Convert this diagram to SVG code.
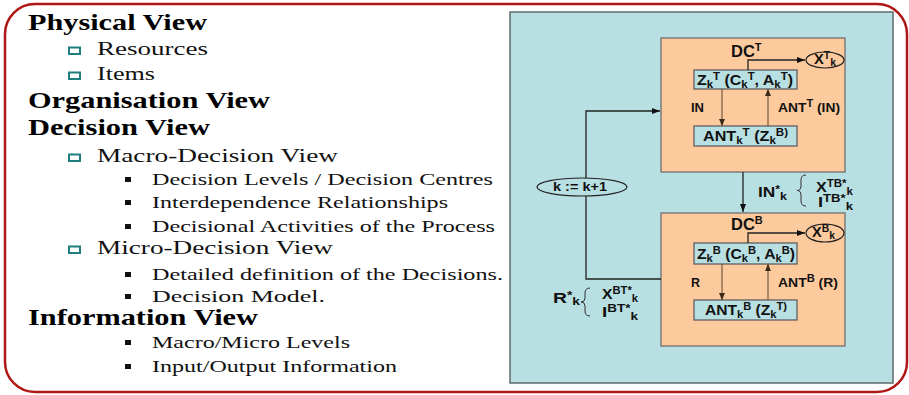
<svg xmlns="http://www.w3.org/2000/svg" width="909" height="395" viewBox="0 0 909 395">
<defs>
<marker id="ah" markerWidth="8" markerHeight="6" refX="8" refY="3" orient="auto" markerUnits="userSpaceOnUse"><path d="M0,0 L8,3 L0,6 z" fill="#111"/></marker>
<marker id="ah2" markerWidth="7" markerHeight="6" refX="7" refY="3" orient="auto" markerUnits="userSpaceOnUse"><path d="M0,0 L7,3 L0,6 z" fill="#3a2a1a"/></marker>
</defs>
<style>
.h{font-family:"Liberation Serif","Times New Roman",serif;font-weight:bold;font-size:23px;fill:#000}
.i{font-family:"Liberation Serif","Times New Roman",serif;font-size:19px;fill:#111}
.j{font-family:"Liberation Serif","Times New Roman",serif;font-size:17px;fill:#111}
.tb{fill:none;stroke:#1f7f7f;stroke-width:2}
.sb{fill:#111}
.d{font-family:"Liberation Sans",Arial,sans-serif;font-weight:bold;font-size:14px;fill:#111}
.m{font-size:12.5px}
.big{font-size:16.5px}
.s{font-size:10px}
.s2{font-size:11px}
.box{fill:#fcca9c;stroke:#666;stroke-width:1.2}
.ib{fill:#b8dfe2;stroke:#555;stroke-width:1.2}
.c{fill:none;stroke:#222;stroke-width:1.3}
.ci{fill:none;stroke:#5a4632;stroke-width:1}
.ell{fill:none;stroke:#222;stroke-width:1.2}
.br{fill:none;stroke:#333;stroke-width:1}
</style>
<rect x="5" y="4" width="902" height="388" rx="30" fill="#fff" stroke="#b01818" stroke-width="2.5"/>
<g id="outline">
<text class="h" x="28" y="30" textLength="179" lengthAdjust="spacingAndGlyphs">Physical View</text>
<rect class="tb" x="69" y="47.5" width="11" height="6.5"/>
<text class="i" x="97" y="55" textLength="111" lengthAdjust="spacingAndGlyphs">Resources</text>
<rect class="tb" x="69" y="72.5" width="11" height="6.5"/>
<text class="i" x="97" y="80" textLength="58" lengthAdjust="spacingAndGlyphs">Items</text>
<text class="h" x="28" y="108" textLength="242" lengthAdjust="spacingAndGlyphs">Organisation View</text>
<text class="h" x="28" y="135" textLength="182" lengthAdjust="spacingAndGlyphs">Decision View</text>
<rect class="tb" x="69" y="154.5" width="11" height="6.5"/>
<text class="i" x="97" y="162" textLength="241" lengthAdjust="spacingAndGlyphs">Macro-Decision View</text>
<rect class="sb" x="125" y="177" width="6" height="5"/>
<text class="j" x="152" y="185" textLength="341" lengthAdjust="spacingAndGlyphs">Decision Levels / Decision Centres</text>
<rect class="sb" x="125" y="200" width="6" height="5"/>
<text class="j" x="152" y="208" textLength="296" lengthAdjust="spacingAndGlyphs">Interdependence Relationships</text>
<rect class="sb" x="125" y="224" width="6" height="5"/>
<text class="j" x="152" y="232" textLength="343" lengthAdjust="spacingAndGlyphs">Decisional Activities of the Process</text>
<rect class="tb" x="69" y="246.5" width="11" height="6.5"/>
<text class="i" x="97" y="254" textLength="236" lengthAdjust="spacingAndGlyphs">Micro-Decision View</text>
<rect class="sb" x="125" y="272" width="6" height="5"/>
<text class="j" x="152" y="280" textLength="351" lengthAdjust="spacingAndGlyphs">Detailed definition of the Decisions.</text>
<rect class="sb" x="125" y="294" width="6" height="5"/>
<text class="j" x="152" y="302" textLength="173" lengthAdjust="spacingAndGlyphs">Decision Model.</text>
<text class="h" x="28" y="325" textLength="230" lengthAdjust="spacingAndGlyphs">Information View</text>
<rect class="sb" x="125" y="340" width="6" height="5"/>
<text class="j" x="152" y="348" textLength="198" lengthAdjust="spacingAndGlyphs">Macro/Micro Levels</text>
<rect class="sb" x="125" y="364" width="6" height="5"/>
<text class="j" x="152" y="372" textLength="245" lengthAdjust="spacingAndGlyphs">Input/Output Information</text>
</g>
<rect id="panel" x="510" y="12" width="383" height="371" fill="#b8dfe2" stroke="#5f6b6b" stroke-width="1.5"/>
<g id="dcT">
<rect class="box" x="661" y="38" width="184" height="134"/>
<text class="d big" x="731" y="57">DC<tspan class="s2" dy="-6">T</tspan></text>
</g>
<g id="zT">
<rect class="ib" x="694" y="70" width="103" height="19"/>
<text class="d" x="697" y="85" textLength="96" lengthAdjust="spacingAndGlyphs">Z<tspan class="s" dy="3">k</tspan><tspan class="s" dy="-8">T</tspan><tspan dy="5"> (C</tspan><tspan class="s" dy="3">k</tspan><tspan class="s" dy="-8">T</tspan><tspan dy="5">, A</tspan><tspan class="s" dy="3">k</tspan><tspan class="s" dy="-8">T</tspan><tspan dy="5">)</tspan></text>
</g>
<g id="antT">
<rect class="ib" x="694" y="126" width="103" height="20"/>
<text class="d" x="703" y="141" textLength="85" lengthAdjust="spacingAndGlyphs">ANT<tspan class="s" dy="3">k</tspan><tspan class="s" dy="-8">T</tspan><tspan dy="5"> (Z</tspan><tspan class="s" dy="3">k</tspan><tspan class="s" dy="-8">B)</tspan></text>
</g>
<g id="xT">
<ellipse class="ell" cx="825" cy="60" rx="19" ry="8"/>
<text class="d" x="814" y="64" textLength="22" lengthAdjust="spacingAndGlyphs">X<tspan class="s" dy="-5">T</tspan><tspan class="s" dy="7">k</tspan></text>
</g>
<g id="dcB">
<rect class="box" x="661" y="213" width="184" height="133"/>
<text class="d big" x="731" y="230">DC<tspan class="s2" dy="-6">B</tspan></text>
</g>
<g id="zB">
<rect class="ib" x="694" y="243" width="103" height="21"/>
<text class="d" x="697" y="259" textLength="98" lengthAdjust="spacingAndGlyphs">Z<tspan class="s" dy="3">k</tspan><tspan class="s" dy="-8">B</tspan><tspan dy="5"> (C</tspan><tspan class="s" dy="3">k</tspan><tspan class="s" dy="-8">B</tspan><tspan dy="5">, A</tspan><tspan class="s" dy="3">k</tspan><tspan class="s" dy="-8">B</tspan><tspan dy="5">)</tspan></text>
</g>
<g id="antB">
<rect class="ib" x="694" y="300" width="103" height="20"/>
<text class="d" x="705" y="315" textLength="82" lengthAdjust="spacingAndGlyphs">ANT<tspan class="s" dy="3">k</tspan><tspan class="s" dy="-8">B</tspan><tspan dy="5"> (Z</tspan><tspan class="s" dy="3">k</tspan><tspan class="s" dy="-8">T)</tspan></text>
</g>
<g id="xB">
<ellipse class="ell" cx="825" cy="233" rx="19" ry="9"/>
<text class="d" x="812" y="237" textLength="23" lengthAdjust="spacingAndGlyphs">X<tspan class="s" dy="-5">B</tspan><tspan class="s" dy="7">k</tspan></text>
</g>
<g id="kinc">
<ellipse class="ell" cx="582" cy="187" rx="45" ry="9"/>
<text class="d m" x="580" y="191" text-anchor="middle" textLength="54" lengthAdjust="spacingAndGlyphs">k := k+1</text>
</g>
<g id="connectors">
<path class="c" d="M661,279 H586 V196"/>
<path class="c" d="M586,178 V111 H660" marker-end="url(#ah)"/>
<path class="c" d="M743,172 V212" marker-end="url(#ah)"/>
<path class="c" d="M748,70 V60 H805" marker-end="url(#ah)"/>
<path class="c" d="M748,243 V233 H805" marker-end="url(#ah)"/>
<path class="ci" d="M722,89 V126" marker-end="url(#ah2)"/>
<path class="ci" d="M768,126 V89" marker-end="url(#ah2)"/>
<path class="ci" d="M722,264 V300" marker-end="url(#ah2)"/>
<path class="ci" d="M768,300 V264" marker-end="url(#ah2)"/>
</g>
<g id="labels">
<text class="d m" x="691" y="112" textLength="13" lengthAdjust="spacingAndGlyphs">IN</text>
<text class="d m" x="778" y="112" textLength="62" lengthAdjust="spacingAndGlyphs">ANT<tspan class="s" dy="-5">T</tspan><tspan dy="5"> (IN)</tspan></text>
<text class="d m" x="691" y="287">R</text>
<text class="d m" x="778" y="287" textLength="60" lengthAdjust="spacingAndGlyphs">ANT<tspan class="s" dy="-5">B</tspan><tspan dy="5"> (R)</tspan></text>
<text class="d" x="758" y="197" textLength="29" lengthAdjust="spacingAndGlyphs">IN<tspan class="s" dy="-4">*</tspan><tspan class="s" dy="7">k</tspan></text>
<path class="br" d="M806,175 Q801,175 801,180 L801,186 Q801,190.5 797,190.5 Q801,190.5 801,195 L801,201 Q801,206 806,206"/>
<text class="d" x="816" y="192" textLength="37" lengthAdjust="spacingAndGlyphs">X<tspan class="s" dy="-5">TB*</tspan><tspan class="s" dy="8">k</tspan></text>
<text class="d" x="818" y="207" textLength="35" lengthAdjust="spacingAndGlyphs">I<tspan class="s" dy="-5">TB*</tspan><tspan class="s" dy="8">k</tspan></text>
<text class="d" x="553" y="303" textLength="27" lengthAdjust="spacingAndGlyphs">R<tspan class="s" dy="-4">*</tspan><tspan class="s" dy="6">k</tspan></text>
<path class="br" d="M590,288 Q585,288 585,293 L585,298 Q585,302 581,302 Q585,302 585,306 L585,311 Q585,316 590,316"/>
<text class="d" x="602" y="299" textLength="36" lengthAdjust="spacingAndGlyphs">X<tspan class="s" dy="-5">BT*</tspan><tspan class="s" dy="8">k</tspan></text>
<text class="d" x="602" y="317" textLength="36" lengthAdjust="spacingAndGlyphs">I<tspan class="s" dy="-5">BT*</tspan><tspan class="s" dy="8">k</tspan></text>
</g>
</svg>
